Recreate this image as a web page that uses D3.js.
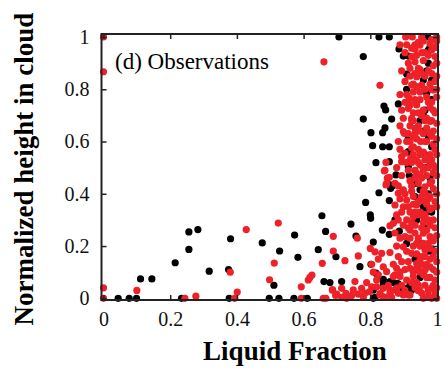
<!DOCTYPE html>
<html><head><meta charset="utf-8">
<script src="https://cdn.jsdelivr.net/npm/d3@7"></script>
<style>body{margin:0;background:#fff}</style>
</head><body>
<script>
const xTicks = [0, 0.2, 0.4, 0.6, 0.8, 1];
const yTicks = [0, 0.2, 0.4, 0.6, 0.8, 1];
const xTitle = "Liquid Fraction";
const yTitle = "Normalized height in cloud";
const panelLabel = "(d) Observations";

const blackPts = [
[0.044,0],[0.077,0],[0.099,0],[0.111,0.074],[0.145,0.074],[0.215,0.136],[0.256,0.187],[0.256,0.254],[0.283,0.263],[0.317,0.104],[0.234,0],
[0.381,0.228],[0.375,0.11],[0.377,0],[0.476,0.212],[0.528,0.181],[0.497,0],[0.526,0],[0.511,0.05],[0.573,0.242],[0.583,0.157],[0.571,0],[0.611,0],[0.655,0.316],[0.666,0.256],[0.644,0.186],[0.697,0.159],[0.661,0.064],[0.679,0.06],
[0.742,0.284],[0.779,0.459],[0.786,0.367],[0.8,0.319],[0.801,0.306],[0.817,0.519],[0.826,0.404],[0.857,0.523],[0.857,0.374],[0.836,0.261],[0.857,0.245],[0.887,0.257],[0.874,0.3],[0.859,0.434],[0.877,0.472],
[0.757,0.238],[0.809,0.215],[0.714,0.064],[0.769,0.121],[0.802,0.13],[0.817,0.096],[0.839,0.073],[0.869,0.06],[0.884,0.055],[0.809,0],[0.909,0.21],[0.924,0.032],[0.907,0.038],
[0.809,0.032],[0.839,0.057],[0.879,0.057],[0.894,0.044],[0.919,0.051],[0.814,0.004],
[0.706,1],[0.826,1],[0.857,1],[0.972,1],[0.779,0.925],[0.886,0.954],[0.899,0.927],[0.914,0.927],[0.909,0.858],[0.909,0.8],[0.884,0.744],[0.841,0.736],[0.846,0.721],[0.779,0.686],[0.864,0.686],[0.802,0.634],[0.844,0.652],[0.837,0.634],[0.807,0.584],[0.837,0.58],[0.857,0.58],[0.939,0.752],[0.959,0.835],[0.974,0.9],
[0.914,0.612],[0.914,0.561],[0.861,0.421],[0.866,0.43],[0.914,0.504],[0.917,0.47],[0.939,0.44],[0.949,0.415],[0.934,0.389],[0.959,0.35],[0.964,0.55],[0.959,0.64],[0.949,0.68],
[0.974,0.95],[0.984,0.835],[0.969,0.785],[0.959,0.7],[0.939,0.3],[0.954,0.21],[0.969,0.33],[0.899,0.03],[0.859,0.064],
[0.979,0.96],[0.969,0.87],[0.984,0.76],[0.964,0.72],[0.974,0.62],[0.984,0.58],[0.969,0.5],[0.979,0.46],[0.974,0.4],[0.984,0.33],[0.964,0.27],[0.979,0.18],[0.969,0.12],[0.949,0.08],[0.934,0.15]
];

const redPts = [
[0,1],[0,0.867],[0,0],[0,0.04],[0.1,0.03],[0.244,0],[0.277,0.008],
[0.428,0.263],[0.524,0.288],[0.38,0.1],[0.401,0.024],[0.393,0],[0.512,0.135],[0.498,0.071],[0.593,0.044],[0.593,0],[0.619,0.08],[0.625,0.089],[0.689,0.237],[0.689,0.181],[0.656,0.134],[0.686,0.032],[0.696,0.011],[0.667,0],[0.659,0],
[0.661,0.905],[0.829,0.815],
[0.761,0.23],[0.724,0.144],[0.764,0.162],[0.614,0.07],[0.8,0.191],[0.804,0.13],[0.859,0.277],[0.847,0.434],[0.851,0.46],[0.844,0.49],[0.847,0.52],
[0.714,0.038],[0.729,0],[0.754,0.064],[0.749,0.032],[0.774,0.038],[0.779,0.004],[0.814,0.178],[0.834,0.172],[0.859,0.175],[0.869,0.287],[0.879,0.319],[0.909,0.3],[0.929,0.312],[0.919,0.261],[0.904,0.236],[0.899,0.197],[0.924,0.172],[0.939,0.21],[0.959,0.249],[0.959,0.312],[0.949,0.147],[0.964,0.108],[0.947,0.032],[0.914,0.013],[0.884,0.019],[0.864,0.004],[0.839,0.006],[0.839,0.038],[0.849,0.102],[0.879,0.115],[0.889,0.083],[0.869,0.083],[0.819,0.07],[0.804,0.044],[0.859,0.032],[0.829,0.018],[0.929,0.083],[0.919,0.115],[0.939,0.133],[0.964,0.185],[0.979,0.236],[0.974,0.3],
[0.687,0.032],[0.699,0.016],[0.714,0.004],[0.727,0.019],[0.764,0.016],[0.797,0.025],[0.819,0.044],[0.829,0.013],[0.844,0.004],[0.859,0.019],[0.874,0.032],[0.899,0.013],[0.919,0.013],[0.944,0.029],
[0.906,1],[0.926,1],[0.954,1],[0.999,1],[0.924,0.957],[0.949,0.969],[0.934,0.905],[0.949,0.875],[0.939,0.848],[0.924,0.816],[0.954,0.816],[0.917,0.765],[0.914,0.727],[0.899,0.689],[0.924,0.689],[0.959,0.72],[0.979,0.73],[0.989,0.797],[0.984,0.86],[0.994,0.925],[0.924,0.925],[0.934,0.953],[0.902,0.631],[0.914,0.63],
[0.899,0.638],[0.909,0.6],[0.894,0.542],[0.894,0.523],[0.904,0.555],[0.924,0.575],[0.921,0.537],[0.938,0.53],[0.951,0.6],[0.969,0.651],[0.979,0.677],[0.979,0.55],[0.974,0.5],[0.984,0.447],[0.974,0.38],[0.984,0.345],[0.842,0.488],[0.857,0.463],[0.849,0.44],[0.874,0.44],[0.884,0.402],[0.899,0.415],[0.909,0.376],[0.924,0.41],[0.899,0.35],[0.874,0.357],[0.939,0.357],[0.954,0.376],[0.964,0.427],[0.939,0.478],[0.959,0.49],[0.964,0.53],[0.924,0.68],[0.934,0.65],
[0.944,0.98],[0.964,0.94],[0.984,0.99],[0.994,0.96],[0.959,0.91],[0.974,0.93],[0.989,0.89],[0.944,0.88],[0.964,0.85],[0.979,0.82],[0.994,0.83],[0.949,0.79],[0.969,0.77],[0.984,0.75],[0.999,0.77],[0.939,0.74],[0.954,0.7],[0.969,0.69],[0.994,0.71],[0.944,0.66],[0.959,0.63],[0.989,0.64],[0.999,0.61],[0.939,0.61],[0.969,0.6],[0.984,0.62],[0.944,0.57],[0.959,0.56],[0.994,0.57],[0.929,0.55],[0.949,0.51],[0.979,0.52],[0.994,0.5],[0.934,0.49],[0.954,0.46],[0.969,0.47],[0.989,0.48],[0.944,0.44],[0.959,0.41],[0.989,0.42],[0.999,0.4],[0.929,0.39],[0.944,0.37],[0.969,0.36],[0.994,0.37],[0.949,0.33],[0.964,0.32],[0.989,0.3],[0.934,0.28],[0.954,0.27],[0.969,0.26],[0.994,0.27],[0.944,0.23],[0.959,0.21],[0.989,0.22],[0.929,0.2],[0.969,0.19],[0.994,0.18],[0.939,0.17],[0.954,0.16],[0.979,0.15],[0.999,0.14],[0.944,0.12],[0.969,0.13],[0.989,0.11],[0.929,0.1],[0.959,0.09],[0.979,0.08],[0.994,0.07],[0.939,0.06],[0.964,0.05],[0.984,0.04],[0.954,0.02],[0.974,0.01],[0.994,0.02],
[0.889,0.97],[0.904,0.94],[0.914,0.9],[0.894,0.87],[0.904,0.83],[0.919,0.85],[0.889,0.78],[0.929,0.79],[0.904,0.75],[0.894,0.72],[0.929,0.71],[0.889,0.66],[0.919,0.66],[0.884,0.6],[0.929,0.62],[0.889,0.57],[0.909,0.52],[0.879,0.5],[0.914,0.49],[0.894,0.47],[0.919,0.45],[0.884,0.43],[0.904,0.4],[0.889,0.38],[0.914,0.35],[0.894,0.33],[0.919,0.33],[0.884,0.3],[0.899,0.28],[0.914,0.27],
[0.874,0.25],[0.889,0.23],[0.919,0.23],[0.879,0.2],[0.909,0.18],[0.884,0.16],[0.894,0.14],[0.914,0.14],[0.869,0.13],[0.904,0.11],[0.934,0.11],[0.889,0.1],[0.874,0.09],[0.909,0.07],[0.924,0.06],[0.894,0.05],[0.879,0.04],[0.904,0.03],[0.934,0.04],
[0.789,0.06],[0.824,0.09],[0.839,0.12],[0.809,0.1],[0.784,0.02],[0.744,0.01],[0.854,0.05],[0.824,0.15],
[0.934,0.97],[0.959,0.985],[0.979,0.975],[0.999,0.985],[0.939,0.93],[0.954,0.94],[0.984,0.95],[0.999,0.9],[0.954,0.86],[0.974,0.87],[0.999,0.85],[0.939,0.81],[0.964,0.8],[0.984,0.8],[0.999,0.8],[0.949,0.76],[0.974,0.75],[0.989,0.72],[0.944,0.71],[0.964,0.68],[0.984,0.68],[0.999,0.67],[0.949,0.64],[0.979,0.63],[0.964,0.6],[0.989,0.59],[0.999,0.55],[0.949,0.55],[0.969,0.54],[0.984,0.53],[0.944,0.52],[0.959,0.5],[0.989,0.51],[0.999,0.47],[0.949,0.47],[0.979,0.44],[0.964,0.4],[0.979,0.39],[0.954,0.39],[0.999,0.35],[0.979,0.34],[0.944,0.32],[0.959,0.29],[0.979,0.28],[0.999,0.24],[0.974,0.21],[0.949,0.2],[0.984,0.19],[0.964,0.16],[0.989,0.16],[0.954,0.13],[0.979,0.12],[0.999,0.1],[0.949,0.1],[0.969,0.08],[0.989,0.05],[0.944,0.05],[0.974,0.03],[0.999,0.04],[0.959,0],[0.984,0],[0.999,0],
[0.929,0.96],[0.909,0.97],[0.919,0.88],[0.934,0.86],[0.929,0.82],[0.909,0.78],[0.934,0.76],[0.919,0.74],[0.929,0.68],[0.934,0.63],[0.919,0.6],[0.929,0.58],[0.924,0.52],[0.934,0.46],[0.924,0.43],[0.929,0.36],[0.934,0.33],[0.924,0.29],[0.934,0.25]
];

const W = 445, H = 368;
const frame = {left: 101.5, right: 438, top: 34, bottom: 300};
const x = d3.scaleLinear().domain([-0.006, 1.003]).range([frame.left, frame.right]);
const y = d3.scaleLinear().domain([-0.0065, 1.0115]).range([frame.bottom, frame.top]);

const svg = d3.select("body").append("svg").attr("width", W).attr("height", H);
const serif = "'Liberation Serif', 'Times New Roman', serif";

// dots
svg.append("g").selectAll("circle").data(blackPts).join("circle")
  .attr("cx", d => x(d[0])).attr("cy", d => y(d[1])).attr("r", 3.6).attr("fill", "#000");
svg.append("g").selectAll("circle").data(redPts).join("circle")
  .attr("cx", d => x(d[0])).attr("cy", d => y(d[1])).attr("r", 3.6).attr("fill", "#ee2128");

// axes
function styleAxis(g) {
  g.select(".domain").remove();
  g.selectAll(".tick line").attr("stroke", "#222").attr("stroke-width", 1.5);
  g.selectAll("text").attr("font-family", serif).attr("font-size", 20).attr("fill", "#111");
}
svg.append("g").attr("transform", `translate(0,${frame.bottom})`)
  .call(d3.axisBottom(x).tickValues(xTicks).tickFormat(d3.format("~g")).tickSizeInner(-5).tickSizeOuter(0).tickPadding(12))
  .call(styleAxis);
svg.append("g").attr("transform", `translate(${frame.left},0)`)
  .call(d3.axisLeft(y).tickValues(yTicks).tickFormat(d3.format("~g")).tickSizeInner(-5).tickSizeOuter(0).tickPadding(12))
  .call(styleAxis);
svg.append("g").attr("transform", `translate(0,${frame.top})`)
  .call(d3.axisTop(x).tickValues(xTicks).tickFormat("").tickSizeInner(-5).tickSizeOuter(0))
  .call(styleAxis);
svg.append("g").attr("transform", `translate(${frame.right},0)`)
  .call(d3.axisRight(y).tickValues(yTicks).tickFormat("").tickSizeInner(-5).tickSizeOuter(0))
  .call(styleAxis);

// frame
svg.append("rect").attr("x", frame.left).attr("y", frame.top)
  .attr("width", frame.right - frame.left).attr("height", frame.bottom - frame.top)
  .attr("fill", "none").attr("stroke", "#222").attr("stroke-width", 2);

// titles
svg.append("text").attr("x", 295).attr("y", 360).attr("text-anchor", "middle")
  .attr("font-family", serif).attr("font-weight", "bold").attr("font-size", 27).text(xTitle);
svg.append("text").attr("transform", "translate(33,169) rotate(-90)").attr("text-anchor", "middle")
  .attr("font-family", serif).attr("font-weight", "bold").attr("font-size", 27).text(yTitle);
svg.append("text").attr("x", 115).attr("y", 69)
  .attr("font-family", serif).attr("font-size", 23).text(panelLabel);
</script>
</body></html>
